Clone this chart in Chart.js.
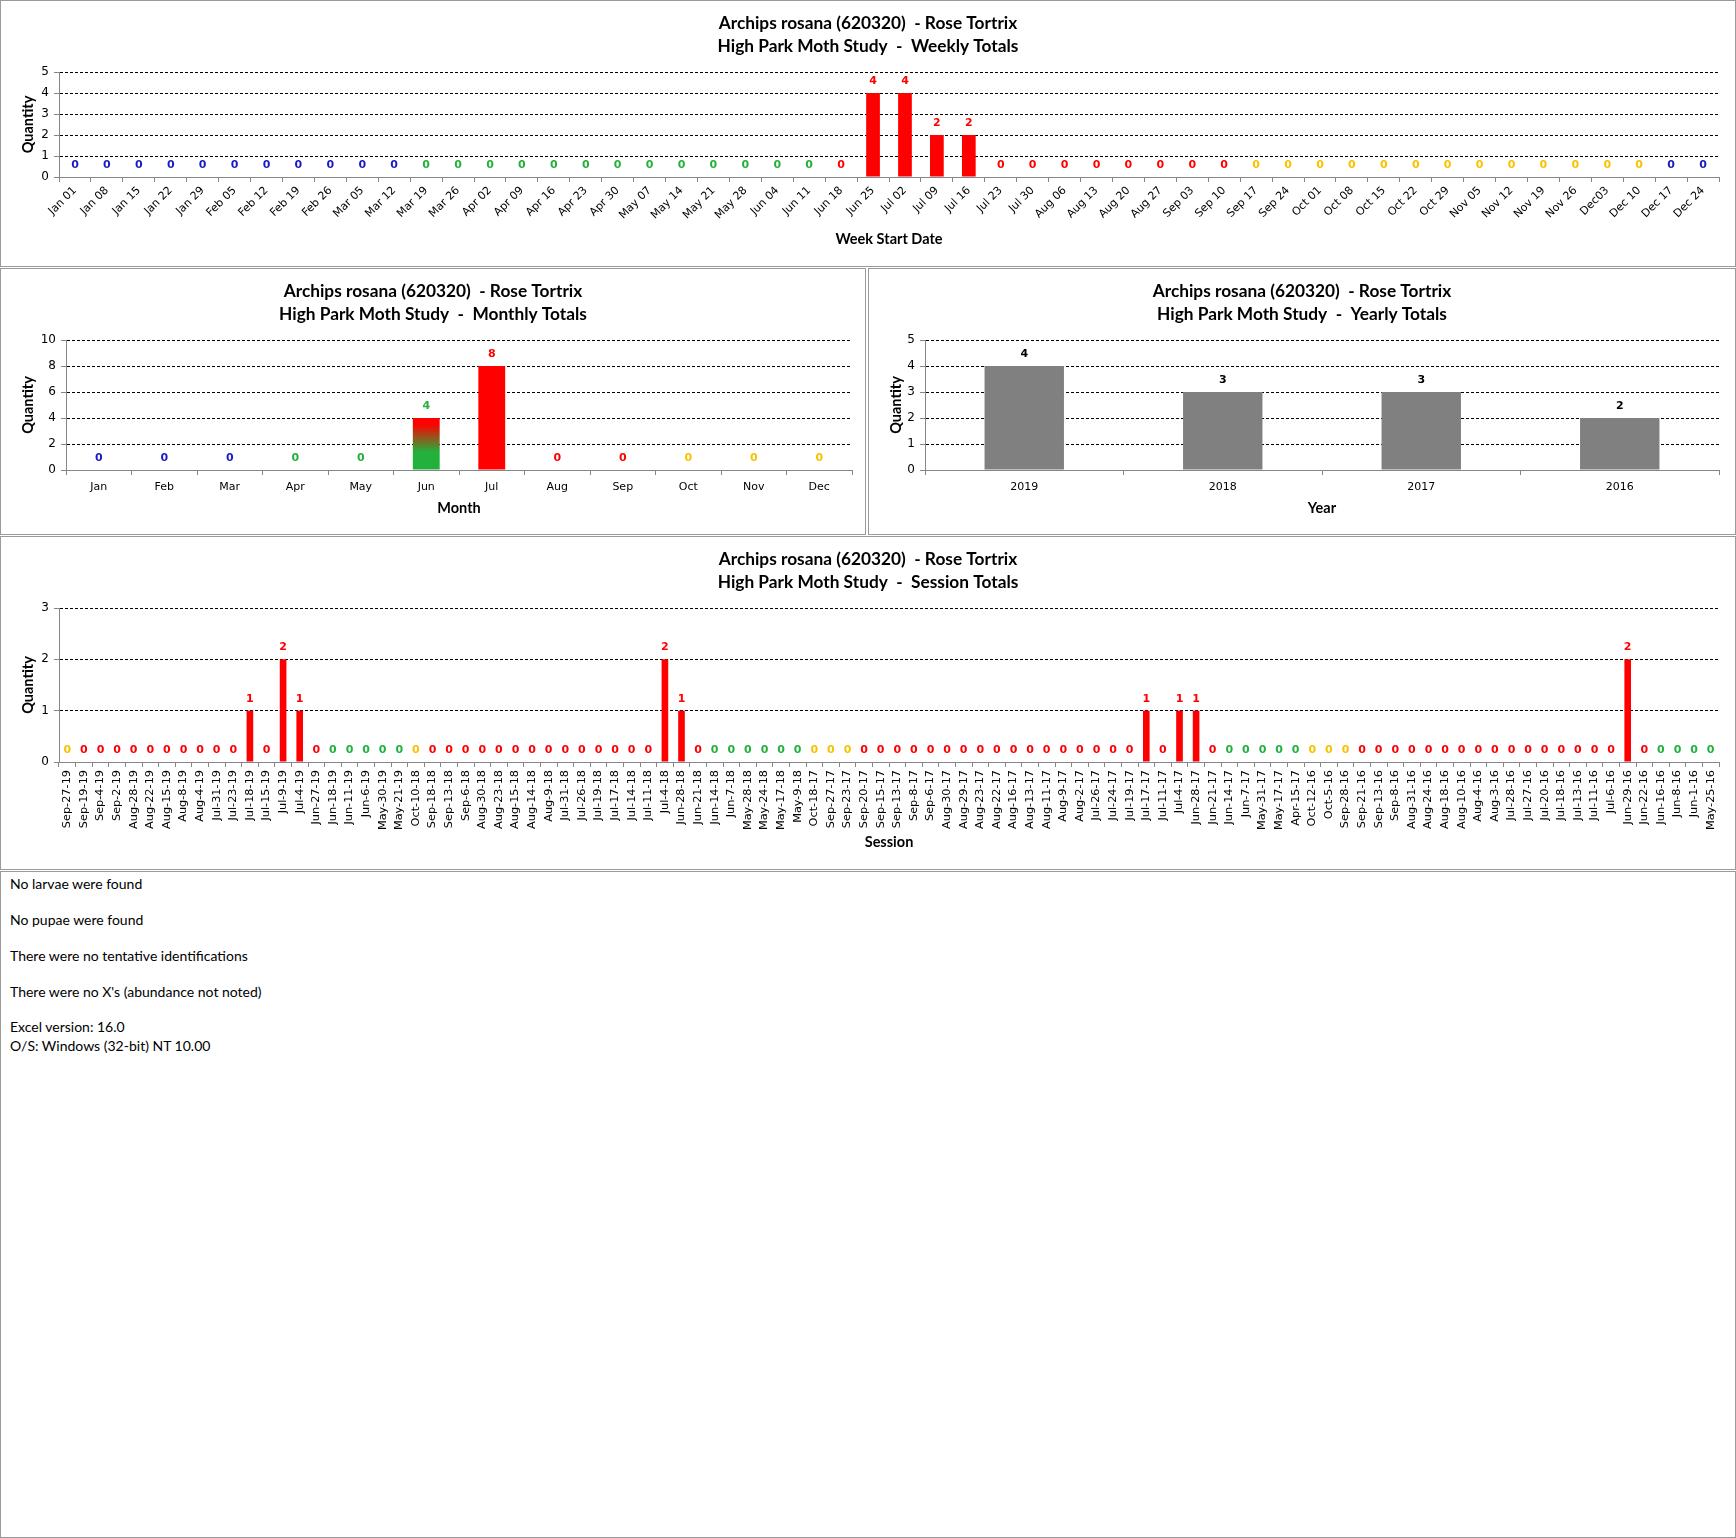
<!DOCTYPE html>
<html><head><meta charset="utf-8">
<script src="https://cdn.jsdelivr.net/npm/chart.js@4.4.0/dist/chart.umd.min.js"></script>
<style>
html,body{margin:0;padding:0;background:#fff}
body{width:1736px;height:1538px;position:relative;overflow:hidden}
.panel{position:absolute;border:1px solid #9a9a9a;box-sizing:border-box;background:#fff}
.panel .box{position:absolute;left:0;top:0;right:0;bottom:0}
.notes div{position:absolute;left:9px;font-family:Lato,"Open Sans",sans-serif;font-size:14px;color:#000;white-space:pre;line-height:16px}
</style></head><body>
<div class="panel" style="left:0;top:0;width:1736px;height:267px"><div class="box"><canvas id="cWeek"></canvas></div></div>
<div class="panel" style="left:0;top:268px;width:866px;height:267px"><div class="box"><canvas id="cMonth"></canvas></div></div>
<div class="panel" style="left:868px;top:268px;width:868px;height:267px"><div class="box"><canvas id="cYear"></canvas></div></div>
<div class="panel" style="left:0;top:536px;width:1736px;height:334px"><div class="box"><canvas id="cSession"></canvas></div></div>
<div class="panel notes" style="left:0;top:871px;width:1736px;height:667px">
<div style="top:4px">No larvae were found</div>
<div style="top:40px">No pupae were found</div>
<div style="top:76px">There were no tentative identifications</div>
<div style="top:112px">There were no X's (abundance not noted)</div>
<div style="top:147px">Excel version: 16.0</div>
<div style="top:166px">O/S: Windows (32-bit) NT 10.00</div>
</div>
<script>
// ---------------- DATA ----------------
const titleLine1 = 'Archips rosana (620320)  - Rose Tortrix';

const weekLabels = ['Jan 01','Jan 08','Jan 15','Jan 22','Jan 29','Feb 05','Feb 12','Feb 19','Feb 26','Mar 05','Mar 12','Mar 19','Mar 26','Apr 02','Apr 09','Apr 16','Apr 23','Apr 30','May 07','May 14','May 21','May 28','Jun 04','Jun 11','Jun 18','Jun 25','Jul 02','Jul 09','Jul 16','Jul 23','Jul 30','Aug 06','Aug 13','Aug 20','Aug 27','Sep 03','Sep 10','Sep 17','Sep 24','Oct 01','Oct 08','Oct 15','Oct 22','Oct 29','Nov 05','Nov 12','Nov 19','Nov 26','Dec03','Dec 10','Dec 17','Dec 24'];
const weekValues = [0,0,0,0,0,0,0,0,0,0,0,0,0,0,0,0,0,0,0,0,0,0,0,0,0,4,4,2,2,0,0,0,0,0,0,0,0,0,0,0,0,0,0,0,0,0,0,0,0,0,0,0];

const monthLabels = ['Jan','Feb','Mar','Apr','May','Jun','Jul','Aug','Sep','Oct','Nov','Dec'];
const monthValues = [0,0,0,0,0,4,8,0,0,0,0,0];

const yearLabels = ['2019','2018','2017','2016'];
const yearValues = [4,3,3,2];

const sessionLabels = [
 'Sep-27-19','Sep-19-19','Sep-4-19','Sep-2-19','Aug-28-19','Aug-22-19','Aug-15-19','Aug-8-19','Aug-4-19','Jul-31-19','Jul-23-19','Jul-18-19','Jul-15-19','Jul-9-19','Jul-4-19','Jun-27-19','Jun-18-19','Jun-11-19','Jun-6-19','May-30-19','May-21-19',
 'Oct-10-18','Sep-18-18','Sep-13-18','Sep-6-18','Aug-30-18','Aug-23-18','Aug-15-18','Aug-14-18','Aug-9-18','Jul-31-18','Jul-26-18','Jul-19-18','Jul-17-18','Jul-14-18','Jul-11-18','Jul-4-18','Jun-28-18','Jun-21-18','Jun-14-18','Jun-7-18','May-28-18','May-24-18','May-17-18','May-9-18',
 'Oct-18-17','Sep-27-17','Sep-23-17','Sep-20-17','Sep-15-17','Sep-13-17','Sep-8-17','Sep-6-17','Aug-30-17','Aug-29-17','Aug-23-17','Aug-22-17','Aug-16-17','Aug-13-17','Aug-11-17','Aug-9-17','Aug-2-17','Jul-26-17','Jul-24-17','Jul-19-17','Jul-17-17','Jul-11-17','Jul-4-17','Jun-28-17','Jun-21-17','Jun-14-17','Jun-7-17','May-31-17','May-17-17','Apr-15-17',
 'Oct-12-16','Oct-5-16','Sep-28-16','Sep-21-16','Sep-13-16','Sep-8-16','Aug-31-16','Aug-24-16','Aug-18-16','Aug-10-16','Aug-4-16','Aug-3-16','Jul-28-16','Jul-27-16','Jul-20-16','Jul-18-16','Jul-13-16','Jul-11-16','Jul-6-16','Jun-29-16','Jun-22-16','Jun-16-16','Jun-8-16','Jun-1-16','May-25-16'
];
const sessionValues = [
 0,0,0,0,0,0,0,0,0,0,0,1,0,2,1,0,0,0,0,0,0,
 0,0,0,0,0,0,0,0,0,0,0,0,0,0,0,2,1,0,0,0,0,0,0,0,
 0,0,0,0,0,0,0,0,0,0,0,0,0,0,0,0,0,0,0,0,1,0,1,1,0,0,0,0,0,0,
 0,0,0,0,0,0,0,0,0,0,0,0,0,0,0,0,0,0,0,2,0,0,0,0,0
];

// ---------------- STYLE ----------------
const RED = '#FF0000', GREEN = '#22B13C', YELLOW = '#F7C300', BLUE = '#1A1AC4', GREY = '#808080';
const AXIS = '#868686';
const MON = ['Jan','Feb','Mar','Apr','May','Jun','Jul','Aug','Sep','Oct','Nov','Dec'];

function seasonColor(m, d) {
  const md = (m + 1) * 100 + d;
  if (md >= 1221 || md < 320) return BLUE;
  if (md < 621) return GREEN;
  if (md < 922) return RED;
  return YELLOW;
}
const weekColors = weekLabels.map(l => {
  const m = MON.indexOf(l.slice(0, 3)); const d = parseInt(l.slice(3), 10);
  const e = new Date(2018, m, d + 6);
  return seasonColor(e.getMonth(), e.getDate());
});
const monthStartColors = monthLabels.map((l, m) => seasonColor(m, 1));
const monthEndColors = monthLabels.map((l, m) => seasonColor(m, new Date(2018, m + 1, 0).getDate()));
const sessionColors = sessionLabels.map(l => {
  const p = l.split('-'); return seasonColor(MON.indexOf(p[0]), parseInt(p[1], 10));
});

Chart.defaults.animation = false;
Chart.defaults.font.family = '"DejaVu Sans", Verdana, sans-serif';
Chart.defaults.font.size = 11;
Chart.defaults.color = '#000';

const titleFont = {family: 'Lato', size: 17.3, weight: 'bold', lineHeight: 23 / 17.3};
const axisTitleFont = {family: 'Lato', size: 14.5, weight: 'bold', lineHeight: 1.2};

const valueLabels = {
  id: 'valueLabels',
  afterDatasetsDraw(chart, args, opts) {
    const ctx = chart.ctx; const meta = chart.getDatasetMeta(0);
    const data = chart.data.datasets[0].data;
    ctx.save();
    ctx.font = 'bold 11px "DejaVu Sans", Verdana, sans-serif';
    ctx.textAlign = 'center'; ctx.textBaseline = 'middle';
    meta.data.forEach((bar, i) => {
      ctx.fillStyle = opts.colors[i];
      ctx.fillText(String(data[i]), bar.x, bar.y - 12);
    });
    ctx.restore();
  }
};

function build(id, o) {
  return new Chart(document.getElementById(id), {
    type: 'bar',
    data: {labels: o.labels, datasets: [{data: o.values, backgroundColor: o.bg, barPercentage: o.barPct, categoryPercentage: 1, borderWidth: 0}]},
    options: {
      responsive: true, maintainAspectRatio: false,
      layout: {padding: 0},
      plugins: {
        legend: {display: false}, tooltip: {enabled: false},
        title: {display: true, text: [titleLine1, o.subtitle], font: titleFont, color: '#000', padding: {top: 10.5, bottom: 14.5}},
        valueLabels: {colors: o.labelColors}
      },
      scales: {
        x: {
          grid: {drawOnChartArea: false, drawTicks: true, tickLength: 5, color: AXIS, offset: true},
          border: {color: AXIS},
          ticks: {autoSkip: false, minRotation: o.rot, maxRotation: o.rot, padding: o.tickPad, font: {size: o.xFont}},
          title: {display: true, text: o.xTitle, font: axisTitleFont, color: '#000', padding: {top: 0, bottom: o.xTitlePad}},
          afterFit: s => { s.height = o.xHeight; }
        },
        y: {
          min: 0, max: o.ymax,
          ticks: {stepSize: o.step, padding: 5, font: {size: 12}},
          grid: {color: c => (c.tick && c.tick.value === 0) ? 'rgba(0,0,0,0)' : '#000', tickColor: AXIS, tickLength: 5, lineWidth: 1},
          border: {color: AXIS, dash: [3, 2]},
          title: {display: true, text: 'Quantity', font: axisTitleFont, color: '#000', padding: {top: 18.3, bottom: 0}},
          afterFit: s => { s.width = o.yWidth; }
        },
        yR: {
          position: 'right', display: true,
          grid: {display: false}, border: {display: false}, ticks: {display: false},
          afterFit: s => { s.width = o.padRight; }
        }
      }
    },
    plugins: [valueLabels]
  });
}

build('cWeek', {
  labels: weekLabels, values: weekValues, bg: weekColors, barPct: 0.43,
  subtitle: 'High Park Moth Study  -  Weekly Totals', labelColors: weekColors,
  rot: 45, tickPad: 2, xFont: 11, xTitle: 'Week Start Date', xTitlePad: 18.3, xHeight: 89,
  ymax: 5, step: 1, yWidth: 58, padRight: 16
});

function monthBg(c) {
  const i = c.dataIndex; const s = monthStartColors[i], e = monthEndColors[i];
  if (s === e) return s;
  const chart = c.chart;
  if (!chart.chartArea || !chart.scales.y) return s;
  const y = chart.scales.y;
  const g = chart.ctx.createLinearGradient(0, y.getPixelForValue(0), 0, y.getPixelForValue(c.raw || 1));
  g.addColorStop(0, s); g.addColorStop(0.35, s); g.addColorStop(0.88, e); g.addColorStop(1, e);
  return g;
}
build('cMonth', {
  labels: monthLabels, values: monthValues, bg: monthBg, barPct: 0.41,
  subtitle: 'High Park Moth Study  -  Monthly Totals', labelColors: monthStartColors,
  rot: 0, tickPad: 6, xFont: 11, xTitle: 'Month', xTitlePad: 17.3, xHeight: 64,
  ymax: 10, step: 2, yWidth: 65, padRight: 13
});

build('cYear', {
  labels: yearLabels, values: yearValues, bg: GREY, barPct: 0.4,
  subtitle: 'High Park Moth Study  -  Yearly Totals', labelColors: yearLabels.map(() => '#000'),
  rot: 0, tickPad: 6, xFont: 11, xTitle: 'Year', xTitlePad: 17.3, xHeight: 64,
  ymax: 5, step: 1, yWidth: 56, padRight: 16
});

build('cSession', {
  labels: sessionLabels, values: sessionValues, bg: sessionColors, barPct: 0.4,
  subtitle: 'High Park Moth Study  -  Session Totals', labelColors: sessionColors,
  rot: 90, tickPad: 3, xFont: 11.3, xTitle: 'Session', xTitlePad: 18.3, xHeight: 107,
  ymax: 3, step: 1, yWidth: 58, padRight: 16
});
</script>
</body></html>
